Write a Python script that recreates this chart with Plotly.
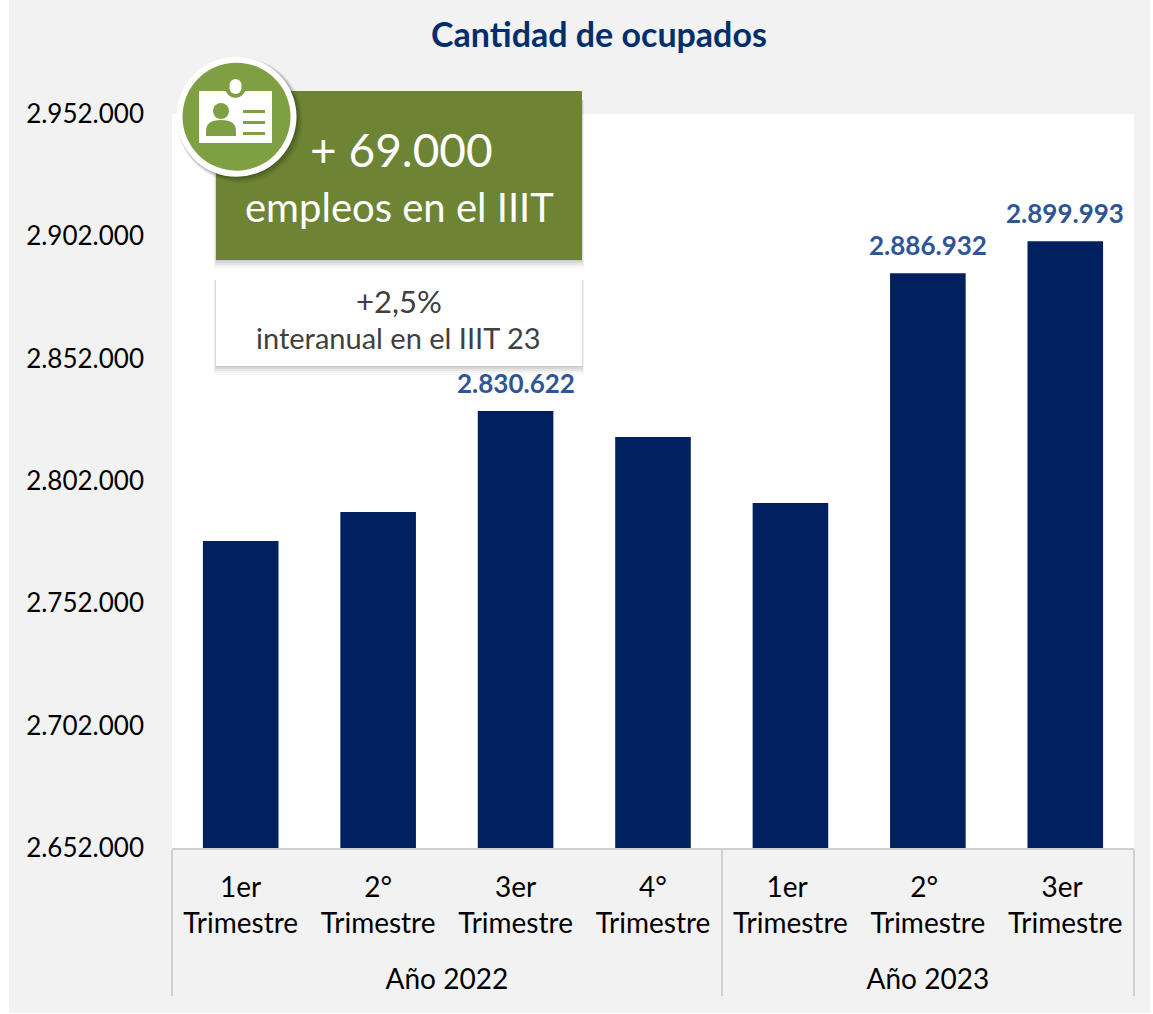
import plotly.graph_objects as go

W, H = 1153, 1014
FONT = "Lato"
years = ["Año 2022"] * 4 + ["Año 2023"] * 3
quarters = ["1er", "2°", "3er", "4°", "1er ", "2° ", "3er "]
values = [2777500, 2789300, 2830622, 2820000, 2793000, 2886932, 2899993]
labels = ["", "", "2.830.622", "", "", "2.886.932", "2.899.993"]
y_ticks = [2652000, 2702000, 2752000, 2802000, 2852000, 2902000, 2952000]
y_range = [2652000, 2952000]

L, R, T, B = 172, 1134, 114, 848
def px(x): return (x - L) / (R - L)
def py(y): return (B - y) / (B - T)

def rect(x0, y0, x1, y1, color, **kw):
    return dict(type="rect", xref="paper", yref="paper", x0=px(x0), x1=px(x1), y0=py(y0), y1=py(y1),
                fillcolor=color, line=dict(width=0), **kw)

def circle(cx, cy, r, color, **kw):
    return dict(type="circle", xref="paper", yref="paper", x0=px(cx - r), x1=px(cx + r), y0=py(cy + r), y1=py(cy - r),
                fillcolor=color, line=dict(width=0), **kw)

def person_body(color):
    p = lambda x, y: f"{px(x)},{py(y)}"
    d = (f"M{p(206, 136)} L{p(206, 131)} Q{p(206, 120)} {p(221, 120)} "
         f"Q{p(236, 120)} {p(236, 131)} L{p(236, 136)} Z")
    return dict(type="path", xref="paper", yref="paper", path=d, fillcolor=color, line=dict(width=0))

GREEN = "#6d8434"
LIGHT = "#7f9f43"
shapes = [
    rect(9, 0, 1150, 1013, "#f2f2f2", layer="below"),
    rect(172, 114, 1134, 848, "#ffffff", layer="below"),
]
# soft box shadows
for off, a in [(9, .02), (7, .03), (5, .05), (3, .06), (1, .06)]:
    shapes.append(rect(216 - off / 4, 100, 582 + off / 4, 260 + off, f"rgba(0,0,0,{a})"))
    shapes.append(rect(216 - off / 4, 280, 582 + off / 4, 366 + off, f"rgba(0,0,0,{a})"))
shapes += [rect(216, 91, 582, 260, GREEN), rect(216, 270, 582, 366, "#ffffff")]
# badge
for off, a in [(8, .04), (6, .07), (4, .09), (2, .10)]:
    shapes.append(circle(236.5 + off / 2, 116.7 + off / 2, 60 + off / 3, f"rgba(0,0,0,{a})"))
shapes += [
    circle(236.5, 116.7, 60, "#ffffff"),
    circle(236.5, 116.7, 54, LIGHT),
    rect(199, 91, 272, 143, "#ffffff"),
    circle(235.5, 88, 10, LIGHT),
    circle(235.5, 85, 6, "#ffffff"),
    circle(235.5, 88, 6, "#ffffff"),
    circle(221, 111, 8, LIGHT),
    person_body(LIGHT),
    rect(243, 110, 265, 113, LIGHT),
    rect(243, 121, 265, 124, LIGHT),
    rect(243, 132, 265, 135, LIGHT),
]

def note(text, x, y, size, color):
    return dict(text=text, x=px(x), y=py(y), xref="paper", yref="paper", showarrow=False,
                font=dict(family=FONT, size=size, color=color), xanchor="center", yanchor="middle")

annotations = [
    note("+ 69.000", 401, 150, 46, "#ffffff"),
    note("empleos en el IIIT", 399, 207, 40, "#ffffff"),
    note("+2,5%", 399, 301, 31, "#404040"),
    note("interanual en el IIIT 23", 398, 337, 29, "#404040"),
]
for i, (t, v) in enumerate(zip(labels, values)):
    if t:
        annotations.append(dict(text=t, x=i, y=v, xref="x", yref="y", showarrow=False, yshift=28,
                                xanchor="center", yanchor="middle",
                                font=dict(family=FONT, size=26, color="#2f5597", weight="bold")))

tick_text = [q + "<br>Trimestre<br><span style='font-size:16px'> </span>" for q in quarters]

fig = go.Figure(go.Bar(
    x=[years, tick_text], y=values, cliponaxis=False, hoverinfo="skip",
    marker=dict(color="#002060", line=dict(width=0)),
))
fig.update_layout(
    width=W, height=H, autosize=False, bargap=0.45, showlegend=False,
    margin=dict(l=L, r=W - R, t=T, b=H - B),
    paper_bgcolor="#ffffff", plot_bgcolor="rgba(0,0,0,0)",
    font=dict(family=FONT, color="#000000"),
    separators=",.",
    title=dict(text="<b>Cantidad de ocupados</b>", x=599 / W, xanchor="center", y=1 - 35 / H, yanchor="middle",
               font=dict(family=FONT, size=34, color="#002f6c")),
    shapes=shapes, annotations=annotations,
    xaxis=dict(type="multicategory", showline=True, linecolor="#d0d0d0", linewidth=2, ticks="",
               showdividers=True, dividercolor="#d0d0d0", dividerwidth=2, ticklabelstandoff=13,
               tickfont=dict(family=FONT, size=28, color="#000000")),
    yaxis=dict(range=y_range, tickvals=y_ticks, tickformat=",d", showgrid=False, showline=False, zeroline=False,
               ticks="", ticklabelstandoff=27, tickfont=dict(family=FONT, size=26, color="#000000")),
)
fig.write_html("out.html", config={"displayModeBar": False}, post_script="document.body.style.margin='0';")
